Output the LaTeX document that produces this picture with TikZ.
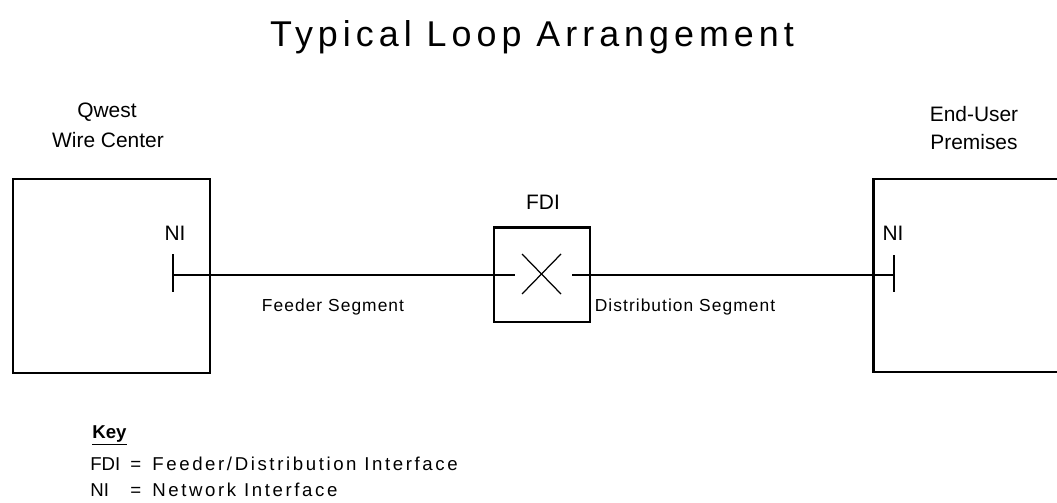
\documentclass[tikz,border=0pt]{standalone}
\usepackage{fontspec}
\setmainfont{Liberation Sans}
\newfontfamily\titlefont[LetterSpace=14]{Liberation Sans}
\newfontfamily\segfont[LetterSpace=6]{Liberation Sans}
\newfontfamily\keyfont[LetterSpace=14]{Liberation Sans}
\usetikzlibrary{calc}

\begin{document}
\begin{tikzpicture}[x=0.02cm, y=-0.02cm,
  heavy/.style={line width=1.7pt},
  wire/.style={line width=1.2pt},
  hair/.style={line width=0.7pt},
  lbl/.style={inner sep=0pt, anchor=base, font=\fontsize{11.9}{14}\selectfont},
  small/.style={inner sep=0pt, anchor=base, font=\fontsize{9.9}{12}\selectfont},
  keytxt/.style={inner sep=0pt, anchor=base west, font=\fontsize{10.6}{12}\selectfont}]

\useasboundingbox (0,0) rectangle (1057,503);

\node[inner sep=0pt, anchor=base, font=\titlefont\fontsize{20.4}{24}\selectfont] (title) at (532,47) {Typical Loop Arrangement};

% wire center on the left
\draw [hair] (13,179) rectangle (210,373);
\draw [heavy] (210,179) -- (13,179) -- (13,373) -- (210,373);
\node[lbl] (qwest) at (107,118) {Qwest};
\node[lbl] (wirectr) at (108,148) {Wire Center};

% end-user premises, runs off the right edge
\draw [heavy] (1057,179) -- (873,179) -- (873,372) -- (1057,372);
\node[lbl] (enduser) at (974,122) {End-User};
\node[lbl] (premises) at (974,150) {Premises};

% network interfaces
\coordinate (niL) at (173,275);
\coordinate (niR) at (894,275);
\draw [heavy] ($(niL)+(0,-21)$) -- ($(niL)+(0,17)$);
\draw [hair] ($(niR)+(0,-20)$) -- ($(niR)+(0,17)$);
\node[lbl] (niLlbl) at (175,240) {NI};
\node[lbl] (niRlbl) at (893,240) {NI};

% feeder/distribution interface
\node (fdi) [draw, hair, minimum width=1.92cm, minimum height=1.88cm, inner sep=0pt] at (542,275) {};
\draw [heavy] (fdi.north west) -- (fdi.north east);
\draw [hair] ($(fdi.center)+(-20,-21)$) -- ($(fdi.center)+(19,19)$);
\draw [hair] ($(fdi.center)+(19,-21)$) -- ($(fdi.center)+(-20,19)$);
\node[lbl] (fdilbl) at (543,210) {FDI};
\coordinate (fdiIn) at ($(fdi.center)+(-27,0)$);
\coordinate (fdiOut) at ($(fdi.center)+(30,0)$);

% segments
\draw [wire] (niL) -- (fdiIn);
\draw [wire] (fdiOut) -- (niR);
\node[small, font=\segfont\fontsize{9.9}{12}\selectfont] (feeder) at (333,311) {Feeder Segment};
\node[small, font=\segfont\fontsize{9.9}{12}\selectfont] (distrib) at (685,311) {Distribution Segment};

% key
\node[keytxt] (key) at (92,438) {\textbf{\underline{Key}}};
\node[keytxt] (kfdi) at (90,470) {FDI};
\node[keytxt] (keq1) at (130,470) {=};
\node[keytxt, font=\keyfont\fontsize{10.6}{12}\selectfont] (kfdidef) at (152,470) {Feeder/Distribution Interface};
\node[keytxt] (kni) at (90,496) {NI};
\node[keytxt] (keq2) at (130,496) {=};
\node[keytxt, font=\keyfont\fontsize{10.6}{12}\selectfont] (knidef) at (152,496) {Network Interface};

\end{tikzpicture}
\end{document}
